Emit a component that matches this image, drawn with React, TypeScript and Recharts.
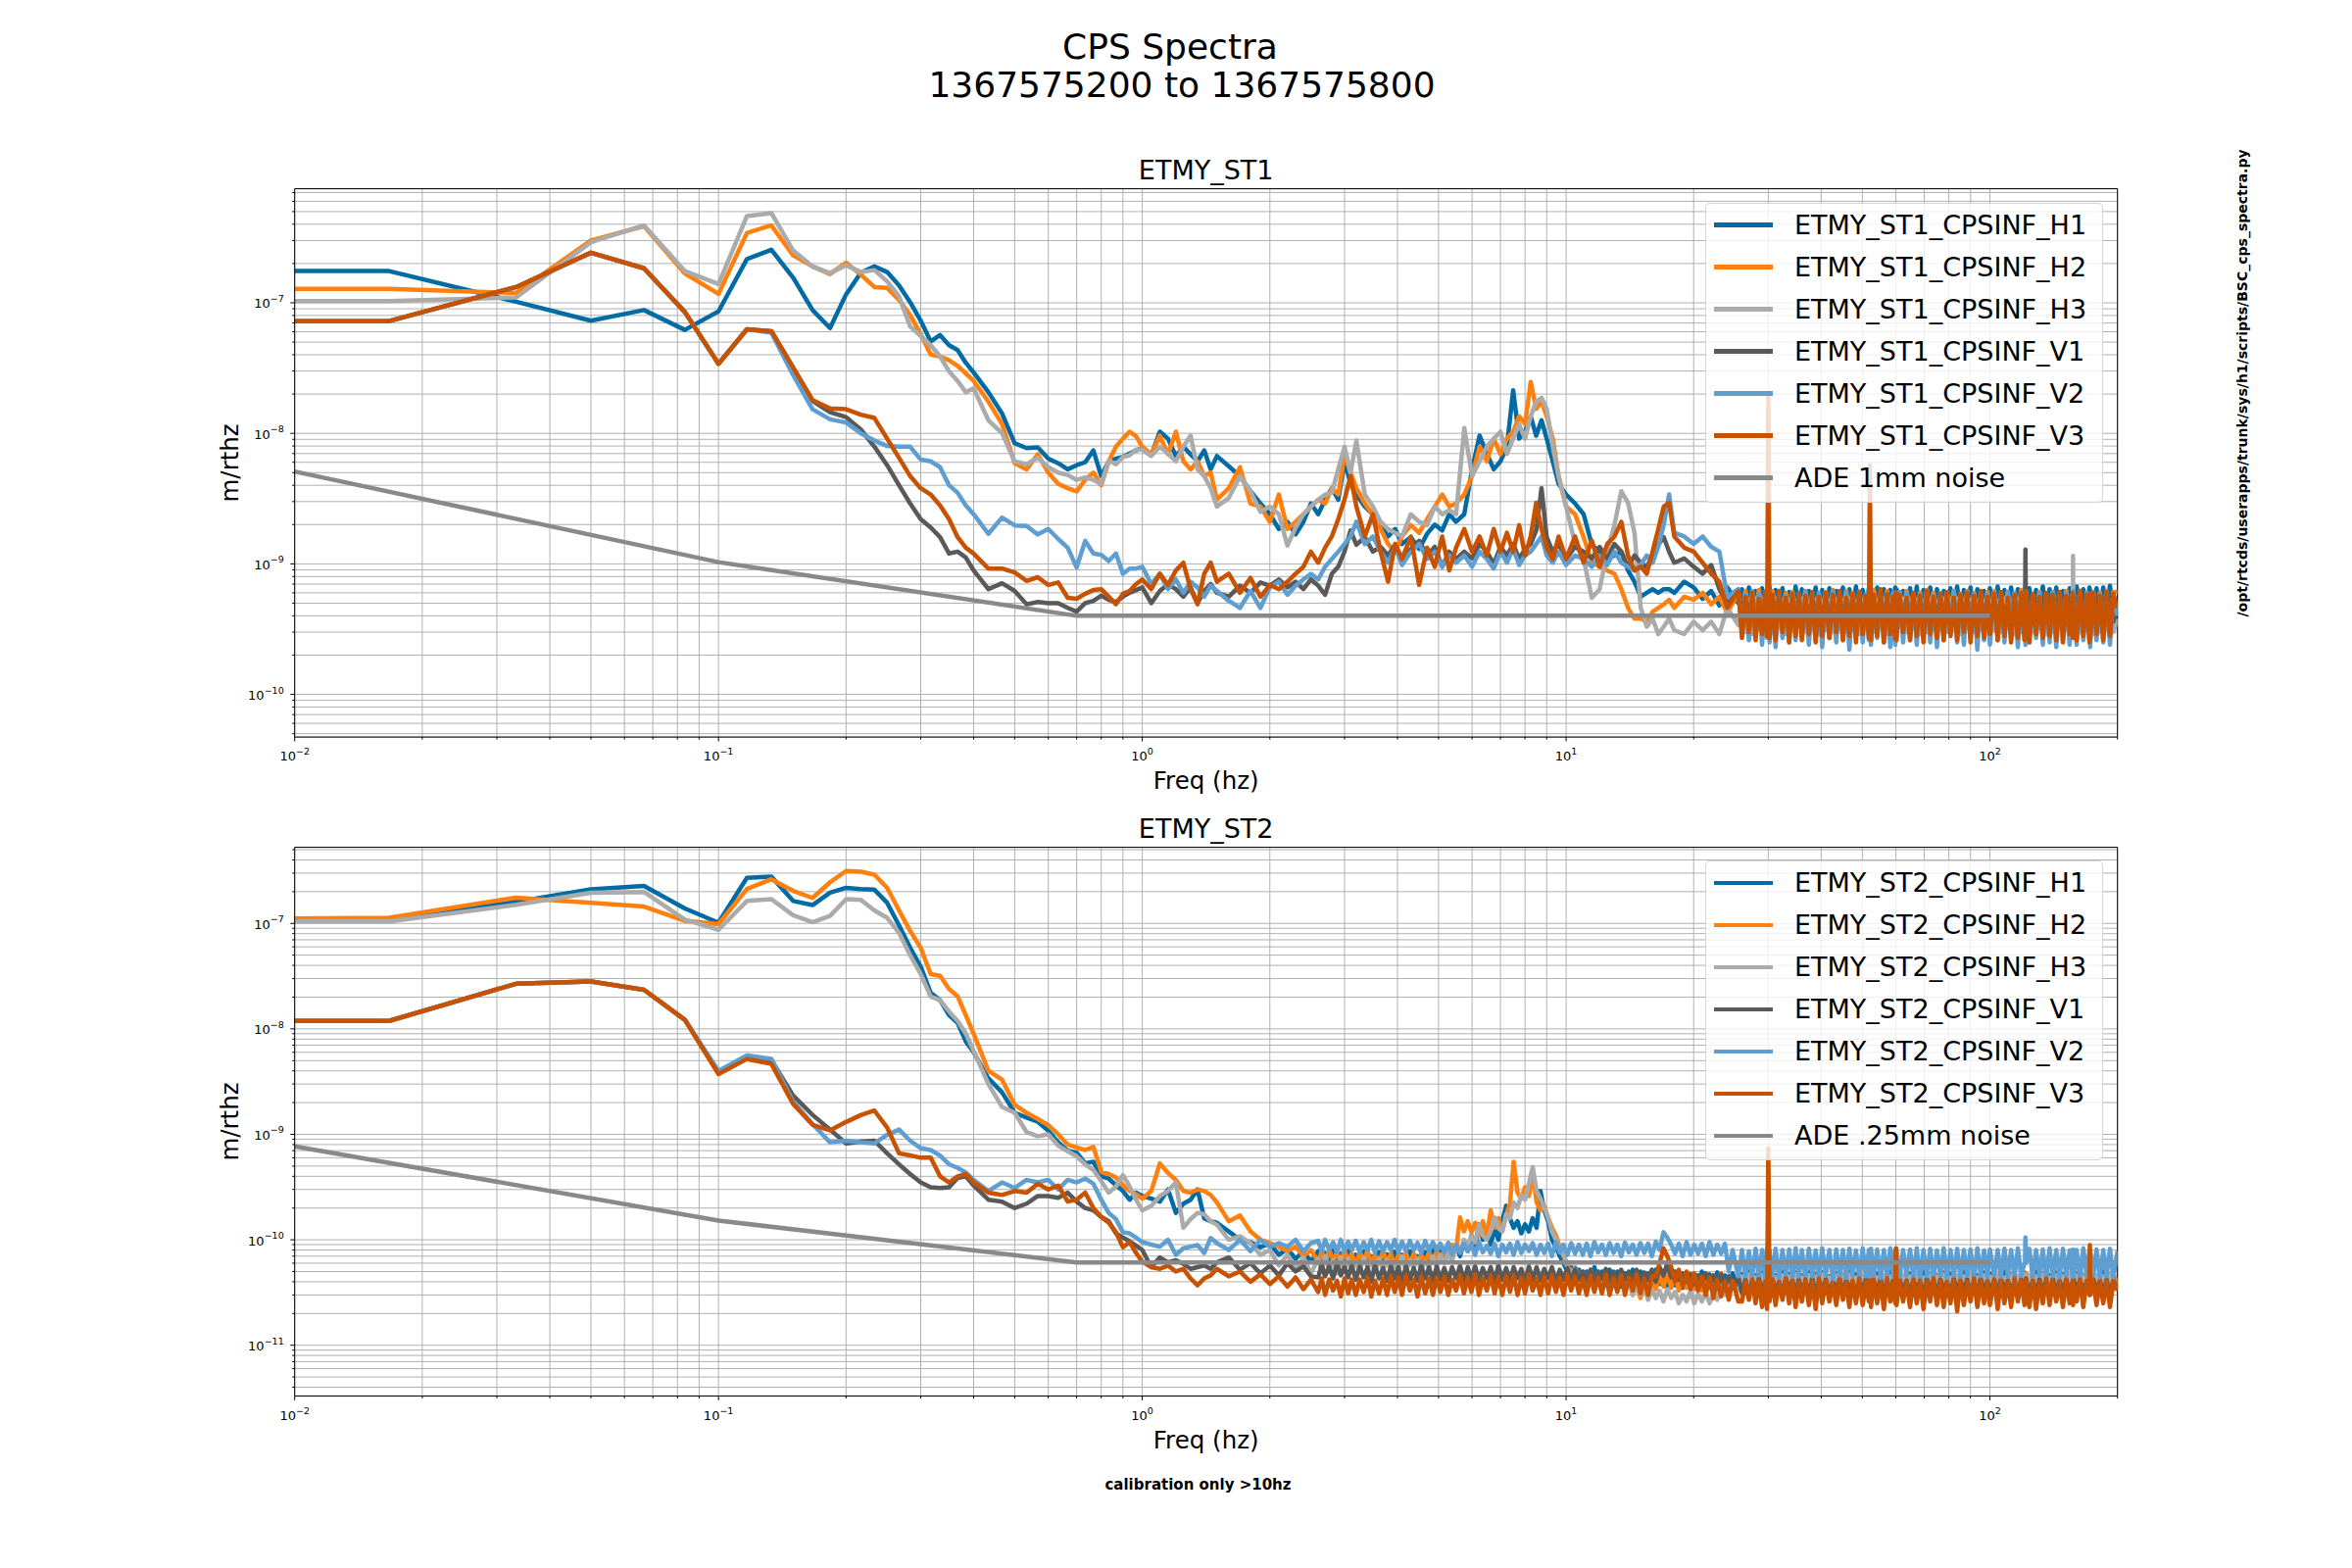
import React from 'react';
import { LineChart, Line, XAxis, YAxis, CartesianGrid, Legend, ReferenceLine } from 'recharts';

const FONT = 'DejaVu Sans';
const UNIT = 1e-10; // series values below are in units of 1e-10 m/rthz
const LINE_W = 4.5;

// frequency grids (Hz)
const FREQ_LOW = [
  0.01, 0.0167, 0.0333, 0.05, 0.0667, 0.0833, 0.1, 0.1167, 0.1333, 0.15,
  0.1667, 0.1833, 0.2, 0.2167, 0.2333, 0.25, 0.2667, 0.2833, 0.3, 0.3167,
  0.3333, 0.35, 0.3667, 0.3833, 0.4, 0.4333, 0.4667, 0.5, 0.5333, 0.5667,
  0.6, 0.6333, 0.6667, 0.7, 0.7333, 0.7667, 0.8, 0.8333, 0.8667, 0.9,
  0.9333, 0.9667, 1.0,
];
const FREQ_MID_A = [
  1.05, 1.1, 1.15, 1.2, 1.25, 1.3, 1.35, 1.4, 1.45, 1.5,
  1.6, 1.7, 1.8, 1.9, 2.0, 2.1, 2.2, 2.3, 2.4, 2.5,
];
const FREQ_MID_B = [
  2.6, 2.7, 2.8, 2.9, 3.0, 3.1, 3.2, 3.35, 3.5, 3.65,
  3.8, 3.95, 4.1, 4.3, 4.5, 4.7, 4.9, 5.1, 5.3, 5.5,
  5.75, 6.0, 6.25, 6.5, 6.75, 7.0, 7.25, 7.5, 7.75, 8.0,
  8.25, 8.5, 8.75, 9.0, 9.3, 9.6, 10, 10.5, 11, 11.5,
  12, 12.5, 13, 13.5, 14, 14.5, 15, 15.5, 16, 16.5,
  17, 17.5, 18, 19, 20, 21, 22, 23, 24, 25.5,
];
const FREQ_DENSE = [
  2.6, 2.65, 2.7, 2.76, 2.82, 2.88, 2.94, 3.0, 3.06, 3.12,
  3.19, 3.26, 3.33, 3.4, 3.47, 3.54, 3.62, 3.7, 3.78, 3.86,
  3.94, 4.02, 4.1, 4.19, 4.28, 4.37, 4.46, 4.55, 4.65, 4.75,
  4.85, 4.95, 5.05, 5.16, 5.27, 5.38, 5.5, 5.62, 5.74, 5.86,
  5.98, 6.1, 6.23, 6.36, 6.5, 6.64, 6.78, 6.92, 7.07, 7.22,
  7.37, 7.52, 7.68, 7.84, 8.0, 8.17, 8.34, 8.52, 8.7, 8.88,
  9.07, 9.26, 9.46, 9.66, 9.86, 10.07, 10.28, 10.5, 10.72, 10.95,
  11.18, 11.42, 11.66, 11.9, 12.15, 12.41, 12.67, 12.94, 13.21, 13.49,
  13.77, 14.06, 14.36, 14.66, 14.97, 15.29, 15.61, 15.94, 16.28, 16.62,
  16.97, 17.33, 17.7, 18.07, 18.45, 18.84, 19.24, 19.65, 20.06, 20.48,
  20.91, 21.35, 21.8, 22.26, 22.73, 23.21, 23.7, 24.2, 24.71, 25.5,
];
const FREQ_BAND = [
  26, 26.5, 27, 27.5, 28, 28.5, 29, 29.5, 29.8, 30,
  30.2, 30.7, 31.2, 31.8, 32.4, 33, 33.6, 34.2, 34.8, 35.4,
  36, 36.7, 37.4, 38.1, 38.8, 39.5, 40.2, 41, 41.8, 42.6,
  43.4, 44.2, 45, 45.8, 46.6, 47.4, 48.3, 49.2, 50.1, 51,
  51.8, 52.1, 52.4, 53.2, 54.2, 55.2, 56.2, 57.2, 58.2, 59.2,
  59.8, 60, 60.2, 61.2, 62.4, 63.6, 64.8, 66, 67.2, 68.4,
  69.7, 71, 72.3, 73.6, 75, 76.4, 77.8, 79.2, 80.7, 82.2,
  83.7, 85.2, 86.8, 88.4, 90, 91.7, 93.4, 95.1, 96.9, 98.7,
  100, 102.4, 104.3, 106.2, 108.2, 110.2, 112.2, 114.3, 116.4, 118.5,
  120.7, 121, 121.3, 121.6, 123.9, 126.2, 128.5, 130.9, 133.3, 135.8,
  138.3, 140.8, 143.4, 146, 148.7, 151.4, 154.2, 156.8, 157.1, 157.4,
  160.2, 163.1, 166.1, 169.2, 171.8, 172.1, 172.4, 175.3, 178.5, 181.8,
  185.1, 188.5, 192, 195.5, 200,
];
const FREQ_ST1 = [...FREQ_LOW, ...FREQ_MID_A, ...FREQ_MID_B, ...FREQ_BAND];
const FREQ_ST2 = [...FREQ_LOW, ...FREQ_MID_A, ...FREQ_DENSE, ...FREQ_BAND];

// ---------- ETMY_ST1 (on FREQ_ST1) ----------
const ST1_H1 = [
  1750, 1750, 1020, 730, 880, 620, 860, 2160, 2550, 1560,
  880, 640, 1160, 1700, 1900, 1720, 1360, 1010, 730, 506,
  566, 473, 434, 347, 292, 207, 142, 84, 77, 78,
  64, 59, 53, 57, 60, 74, 47, 61, 64, 66,
  70, 74, 77,
  68, 103, 91, 67, 79, 69, 61, 74, 53, 67,
  56, 47, 36, 29, 24, 18.5, 21, 16.8, 21, 29,
  24, 31, 38, 31, 61, 41, 34, 27.5, 24, 19.8,
  16.2, 18.5, 14.2, 16, 13, 17, 20, 18, 24, 21,
  24, 53, 96, 70, 53, 61, 79, 214, 91, 103,
  135, 96, 126, 91, 61, 41, 34, 29, 24, 14,
  12.4, 10.9, 11.6, 12.4, 8.9, 7.3, 5.6, 6.0, 6.4, 6.0,
  6.4, 6.4, 6.0, 7.3, 6.6, 5.4, 6.2, 4.8, 6.6, 5.0,
  6.4, 4.3, 6.6, 4.1, 6.2, 4.5, 6.5, 4.2, 6.3, 4.4,
  6.6, 4.0, 6.3, 4.4, 6.5, 4.2, 6.1, 4.6, 6.7, 4.1,
  6.4, 4.3, 6.2, 4.5, 6.6, 4.0, 6.3, 4.4, 6.5, 4.2,
  6.2, 4.6, 6.6, 4.1, 6.4, 4.3, 6.7, 4.2, 6.3, 4.5,
  6.5, 4.1, 6.2, 4.4, 6.6, 4.3, 6.4, 4.0, 6.3, 4.5,
  6.6, 4.2, 6.4, 4.4, 6.2, 4.1, 6.5, 4.3, 6.7, 4.0,
  6.3, 4.5, 6.6, 4.2, 6.4, 4.4, 6.2, 4.1, 6.5, 4.3,
  6.7, 4.2, 6.3, 4.5, 6.6, 4.0, 6.4, 4.3, 6.2, 4.4,
  6.5, 4.1, 6.7, 4.3, 6.3, 4.5, 6.6, 4.2, 6.4, 4.0,
  6.2, 4.4, 6.6, 4.1, 6.5, 4.3, 6.3, 4.5, 6.7, 4.2,
  6.4, 4.0, 6.6, 4.3, 6.2, 4.4, 6.5, 4.1, 6.3, 4.5,
  6.7, 4.2, 6.4, 4.4, 6.6, 4.1, 6.3, 4.3, 6.5, 4.2,
  6.6, 4.4, 6.8, 4.2, 5.0,
];
const ST1_H2 = [
  1280, 1280, 1190, 3000, 3870, 1680, 1170, 3430, 3920, 2310,
  1900, 1660, 2030, 1640, 1320, 1300, 1050, 804, 577, 401,
  388, 363, 329, 288, 252, 175, 118, 59, 53, 69,
  50, 41, 38, 36, 44, 50, 40, 61, 79, 91,
  103, 95, 79,
  69, 96, 69, 103, 61, 53, 61, 47, 50, 31,
  38, 55, 29, 27.5, 21, 34, 18.5, 21, 24, 27.5,
  31, 29, 38, 34, 69, 50, 38, 29, 24, 18.5,
  14.2, 12.4, 16.2, 19.8, 17.3, 22, 27.5, 34, 27.5, 29,
  34, 47, 79, 61, 91, 69, 91, 103, 135, 118,
  248, 154, 175, 135, 91, 47, 27.5, 24, 16, 10.3,
  9.5, 8.9, 8.4, 6.4, 4.6, 3.8, 3.8, 3.6, 4.3, 4.6,
  4.9, 5.3, 4.6, 5.6, 5.3, 6.0, 4.9, 5.6, 4.2, 6.0,
  4.0, 6.2, 4.4, 6.0, 4.1, 6.3, 4.2, 5.9, 4.3, 6.1,
  3.9, 6.2, 4.1, 5.8, 4.4, 6.0, 4.2, 6.1, 4.0, 5.9,
  4.3, 6.2, 3.9, 6.0, 4.2, 5.8, 4.4, 6.1, 4.1, 6.3,
  4.0, 5.9, 4.3, 6.2, 4.1, 6.0, 3.9, 6.1, 4.4, 5.8,
  4.2, 6.0, 4.0, 6.3, 4.3, 5.9, 4.1, 6.2, 3.9, 6.0,
  4.4, 5.8, 4.2, 6.1, 4.0, 6.2, 4.3, 5.9, 4.1, 6.0,
  3.9, 6.3, 4.2, 6.0, 4.4, 5.8, 4.0, 6.1, 4.3, 6.2,
  4.1, 5.9, 4.3, 6.2, 3.9, 6.0, 4.2, 5.8, 4.4, 6.1,
  4.0, 6.2, 4.1, 5.9, 4.3, 6.1, 3.9, 6.0, 4.2, 6.3,
  4.4, 6.0, 4.0, 6.2, 4.1, 5.8, 4.3, 6.1, 3.9, 5.9,
  4.2, 6.1, 4.4, 5.9, 4.0, 6.2, 4.1, 6.0, 4.3, 5.8,
  3.9, 6.2, 4.2, 6.0, 4.4, 5.9, 4.0, 6.1, 4.3, 6.0,
  4.1, 6.2, 4.0, 6.1, 6.1,
];
const ST1_H3 = [
  1030, 1030, 1100, 2910, 3920, 1750, 1390, 4620, 4870, 2520,
  1900, 1690, 1940, 1720, 1780, 1460, 1120, 659, 558, 473,
  388, 298, 252, 207, 221, 126, 100, 61, 58, 65,
  55, 50, 48, 44, 46, 44, 41, 62, 58, 66,
  68, 75, 75,
  67, 79, 70, 61, 79, 96, 53, 47, 38, 27.5,
  32, 47, 36, 25, 27.5, 24, 13.8, 19, 24, 27.5,
  31, 34, 35, 53, 79, 50, 88, 34, 27.5, 21,
  18.5, 17.3, 16.2, 24, 21, 19.8, 27.5, 24, 25.7, 24,
  110, 47, 61, 79, 91, 103, 69.5, 91, 118, 91,
  135, 175, 187, 154, 79, 47, 27.5, 14.2, 10.9, 5.5,
  6.4, 12.4, 19.8, 36, 29.4, 17.3, 4.6, 3.3, 3.8, 2.9,
  3.3, 3.8, 3.1, 2.9, 3.6, 3.1, 3.6, 2.9, 4.6, 3.4,
  5.2, 3.0, 4.8, 2.9, 5.4, 3.1, 5.0, 2.8, 5.3, 3.2,
  5.1, 3.0, 5.4, 3.2, 4.9, 2.9, 5.3, 3.1, 5.0, 3.3,
  5.4, 3.0, 5.1, 3.2, 5.3, 2.9, 5.0, 3.1, 5.2, 3.0,
  5.3, 3.2, 5.0, 3.0, 5.4, 3.1, 5.1, 2.9, 5.2, 3.2,
  5.0, 3.1, 5.3, 3.0, 5.2, 3.2, 5.4, 2.9, 5.1, 3.0,
  5.2, 3.1, 5.0, 3.3, 5.4, 3.0, 5.1, 3.2, 5.3, 2.9,
  5.1, 3.0, 5.3, 3.1, 5.0, 3.2, 5.4, 3.0, 5.2, 3.1,
  5.4, 2.9, 5.1, 3.2, 5.3, 3.0, 5.0, 3.1, 5.2, 3.3,
  5.0, 3.1, 5.2, 3.0, 5.4, 3.2, 5.1, 2.9, 5.3, 3.0,
  5.2, 3.2, 5.0, 3.1, 5.3, 3.0, 5.4, 3.2, 5.1, 2.9,
  5.3, 3.0, 5.1, 3.2, 5.0, 3.1, 5.2, 3.0, 11.5, 3.1,
  5.4, 3.0, 5.2, 3.1, 5.0, 3.2, 5.3, 2.9, 5.1, 3.0,
  5.2, 3.1, 5.3, 3.0, 3.8,
];
const ST1_V1 = [
  724, 724, 1320, 2420, 1840, 850, 341, 627, 606, 319,
  177, 145, 133, 107, 79, 57, 40, 29, 22, 19,
  16, 12, 12.4, 11.2, 8.9, 6.4, 7.1, 6.2, 4.9, 5.1,
  5.0, 5.0, 4.6, 4.3, 5.0, 5.2, 5.7, 5.3, 5.1, 5.6,
  6.0, 6.3, 6.6,
  5.0, 6.2, 7.0, 6.4, 5.6, 6.6, 5.0, 6.2, 7.0, 6.0,
  5.6, 6.8, 6.0, 7.2, 6.8, 7.6, 6.6, 7.3, 6.4, 7.6,
  6.8, 5.8, 8.4, 9.5, 12.4, 18, 14, 16, 12.4, 13.5,
  11.6, 14, 10.9, 13, 15, 11.6, 13.5, 9.5, 12.4, 10.9,
  12.4, 11, 14.2, 12.4, 10, 13.5, 11.6, 14.2, 10.9, 13,
  14.2, 18, 38, 16, 12.4, 14.2, 10.9, 13.5, 12.4, 11,
  13.5, 10.9, 14.2, 12.4, 9.5, 11.6, 10.2, 9.5, 11.6, 14,
  16, 12.4, 10.2, 11, 9.5, 8.4, 9.8, 6.4, 5.0, 6.0,
  4.4, 5.6, 4.0, 5.4, 3.8, 5.7, 3.6, 5.5, 3.9, 5.6,
  3.7, 5.5, 3.9, 5.7, 3.6, 5.4, 3.8, 5.6, 3.5, 5.5,
  3.8, 5.3, 3.6, 5.6, 3.9, 5.4, 3.5, 5.7, 3.7, 5.3,
  3.6, 5.6, 3.8, 5.4, 3.5, 5.5, 3.7, 5.7, 3.6, 5.4,
  3.8, 5.5, 3.6, 5.3, 3.9, 5.6, 3.7, 5.4, 3.5, 5.6,
  3.7, 5.4, 3.9, 5.7, 3.6, 5.5, 3.8, 5.3, 3.5, 5.6,
  3.9, 5.5, 3.7, 5.4, 3.6, 5.7, 3.8, 5.5, 3.6, 5.3,
  3.5, 5.6, 3.8, 5.5, 3.7, 5.4, 3.9, 5.6, 3.6, 5.7,
  3.8, 5.4, 3.6, 5.5, 3.7, 5.3, 3.9, 5.6, 3.5, 5.4,
  3.7, 3.6, 12.9, 3.8, 5.5, 3.6, 5.4, 3.9, 5.6, 3.7,
  5.5, 3.8, 5.3, 3.6, 5.6, 3.7, 5.4, 3.9, 5.5, 3.6,
  5.4, 3.8, 5.6, 3.5, 5.5, 3.7, 5.3, 3.9, 5.6, 3.6,
  5.4, 3.8, 5.5, 3.6, 4.6,
];
const ST1_V2 = [
  724, 724, 1320, 2420, 1840, 850, 341, 627, 590, 280,
  153, 128, 121, 100, 88, 80, 79, 79, 63, 61,
  55, 40, 35, 28, 24, 17, 22.6, 19.7, 19.5, 16.8,
  18.5, 15.5, 13.3, 9.4, 15, 12, 11.7, 10.5, 12, 8.4,
  9.2, 9.2, 9.5,
  7.0, 8.4, 6.4, 7.6, 6.0, 7.3, 6.6, 5.6, 6.8, 6.2,
  5.2, 4.6, 6.2, 4.6, 6.6, 7.3, 5.8, 6.8, 7.6, 8.4,
  7.6, 9.5, 10.9, 12.4, 14.2, 16.2, 21, 14.2, 16.2, 12.4,
  10.2, 13.5, 9.8, 12.4, 14.2, 10.9, 12.4, 9.5, 11.6, 10.2,
  11.6, 9.5, 12.4, 10.9, 9.2, 12.4, 10.2, 13, 9.8, 11.6,
  12.4, 14.2, 16.2, 11.6, 10.2, 12.4, 9.8, 11.6, 10.9, 9.5,
  11.6, 9.8, 12.4, 10.2, 9.5, 8.9, 9.8, 11.6, 10.2, 13.5,
  20, 34, 17.3, 16.2, 14.2, 16.2, 13.5, 12.4, 5.6, 6.4,
  3.0, 5.8, 2.6, 6.2, 2.8, 5.9, 2.4, 6.1, 2.7, 6.0,
  2.5, 5.8, 2.3, 6.2, 2.7, 5.7, 2.5, 6.0, 2.6, 5.9,
  2.8, 6.1, 2.4, 5.8, 2.6, 6.0, 2.3, 5.9, 2.7, 6.2,
  2.5, 5.8, 2.6, 6.0, 2.2, 5.7, 2.7, 6.1, 2.5, 5.9,
  2.6, 6.0, 2.4, 5.8, 2.7, 6.1, 2.5, 5.9, 2.3, 6.0,
  2.4, 5.8, 2.7, 6.1, 2.5, 5.9, 2.6, 6.0, 2.4, 5.8,
  2.7, 6.2, 2.5, 5.7, 2.3, 6.0, 2.6, 5.9, 2.8, 6.1,
  2.5, 5.8, 2.4, 6.0, 2.7, 5.9, 2.2, 6.1, 2.6, 5.8,
  2.4, 6.0, 2.6, 5.8, 2.5, 6.1, 2.7, 5.9, 2.3, 6.0,
  2.6, 5.9, 2.4, 6.1, 2.5, 5.8, 2.7, 6.0, 2.4, 5.9,
  2.5, 6.1, 2.3, 5.8, 2.6, 6.0, 2.4, 5.9, 2.7, 6.2,
  2.4, 5.8, 2.6, 6.0, 2.5, 5.9, 2.3, 6.1, 2.6, 5.8,
  2.5, 6.0, 2.4, 5.9, 4.0,
];
const ST1_V3 = [
  724, 724, 1320, 2420, 1840, 850, 341, 627, 606, 319,
  180, 155, 153, 139, 131, 91, 65, 47, 38, 34,
  28, 22, 16, 13.3, 12, 9.2, 9.2, 8.6, 7.4, 7.9,
  6.9, 7.2, 5.5, 5.4, 5.9, 6.3, 6.4, 5.6, 4.9, 5.9,
  6.2, 7.0, 7.6,
  6.4, 8.4, 6.9, 8.9, 10.2, 6.4, 4.9, 8.4, 10.2, 7.3,
  8.4, 6.0, 7.8, 5.6, 6.9, 6.4, 7.3, 8.4, 9.5, 12.4,
  10.2, 13.3, 16.2, 22, 31, 47, 27.5, 16.2, 24, 12.4,
  7.3, 14.2, 10.9, 16.2, 6.9, 13.3, 9.5, 16.2, 8.9, 13.3,
  18.5, 12.4, 16.2, 11.6, 18.5, 12.4, 17.3, 12.4, 19.8, 11.6,
  16.2, 29.4, 18.5, 13.3, 10.9, 16.2, 10.9, 16.2, 10.2, 15.1,
  9.5, 14.2, 16.2, 21, 11.6, 8.9, 9.5, 8.4, 12.4, 18.5,
  27.5, 29.4, 16.2, 13.3, 12.4, 10.2, 8.4, 7.3, 4.6, 6.2,
  2.7, 5.6, 3.0, 6.0, 2.6, 5.4, 2.9, 6.1, 2.8, 190,
  2.7, 5.8, 2.6, 6.2, 3.0, 5.5, 2.5, 5.9, 2.8, 6.0,
  2.6, 5.7, 2.9, 6.1, 2.5, 5.6, 2.8, 6.0, 2.7, 5.8,
  3.0, 6.2, 2.6, 5.5, 2.8, 5.9, 2.5, 6.1, 2.9, 5.7,
  2.7, 57, 2.6, 5.8, 2.8, 6.4, 2.5, 5.9, 2.9, 5.6,
  2.7, 6.1, 2.6, 5.8, 3.0, 5.5, 2.6, 6.0, 2.8, 5.7,
  2.5, 6.2, 2.9, 5.6, 2.7, 5.9, 2.6, 6.1, 2.8, 5.5,
  2.6, 5.8, 3.0, 6.0, 2.5, 5.7, 2.8, 6.2, 2.7, 5.6,
  2.9, 5.9, 2.6, 6.1, 2.8, 5.5, 2.5, 5.8, 2.7, 6.0,
  2.6, 5.7, 2.8, 6.2, 2.5, 5.9, 2.9, 5.6, 2.7, 6.0,
  2.8, 5.8, 2.6, 6.1, 2.5, 5.7, 2.9, 6.0, 2.7, 5.6,
  2.6, 6.2, 2.8, 5.8, 2.5, 5.9, 2.7, 6.0, 2.9, 5.7,
  2.6, 6.1, 2.8, 5.9, 4.6,
];

// ---------- ETMY_ST2 (on FREQ_ST2) ----------
const ST2_H1 = [
  1067, 1067, 1607, 2104, 2265, 1388, 1016, 2711, 2780, 1633,
  1493, 1955, 2176, 2120, 2090, 1570, 960, 588, 390, 220,
  187, 135, 114, 76, 60, 34, 25, 16, 14.4, 13.2,
  10.8, 8.4, 7.0, 6.7, 5.3, 5.5, 4.0, 3.8, 3.3, 2.9,
  2.4, 2.8, 2.6,
  2.45, 2.3, 3.0, 1.8, 2.2, 2.4, 3.0, 1.6, 1.5, 1.45,
  1.2, 1.0, 0.95, 0.85, 0.92, 0.72, 0.82, 0.66, 0.78, 0.62,
  0.78, 0.6, 0.75, 0.58, 0.8, 0.62, 0.74, 0.57, 0.79, 0.6,
  0.72, 0.56, 0.78, 0.6, 0.7, 0.55, 0.76, 0.58, 0.73, 0.56,
  0.77, 0.58, 0.72, 0.56, 0.78, 0.6, 0.7, 0.57, 0.76, 0.59,
  0.8, 0.6, 0.78, 0.62, 0.85, 0.66, 0.9, 0.7, 0.95, 0.78,
  1.1, 0.85, 1.4, 1.0, 1.25, 0.9, 1.3, 1.0, 1.5, 2.1,
  1.6, 1.3, 1.5, 1.15, 1.4, 1.2, 1.6, 1.3, 2.9, 1.9,
  1.5, 1.0, 0.86, 0.7, 0.6, 0.5, 0.55, 0.42, 0.52, 0.4,
  0.5, 0.38, 0.55, 0.4, 0.5, 0.37, 0.52, 0.38, 0.5, 0.36,
  0.48, 0.36, 0.52, 0.38, 0.5, 0.35, 0.48, 0.37, 0.52, 0.38,
  0.5, 0.36, 0.48, 0.37, 0.5, 0.35, 0.47, 0.38, 0.46, 0.34,
  0.5, 0.35, 0.47, 0.36, 0.49, 0.34, 0.46, 0.36, 0.48, 0.34,
  0.47, 0.34, 0.5, 0.35, 0.46, 0.33, 0.49, 0.36, 0.45, 0.34,
  0.48, 0.35, 0.46, 0.33, 0.5, 0.36, 0.47, 0.34, 0.49, 0.35,
  0.46, 0.33, 0.5, 0.35, 0.47, 0.34, 0.49, 0.36, 0.45, 0.33,
  0.48, 0.35, 0.46, 0.34, 0.5, 0.33, 0.47, 0.36, 0.45, 0.34,
  0.49, 0.35, 0.46, 0.33, 0.48, 0.36, 0.45, 0.34, 0.5, 0.35,
  0.47, 0.33, 0.49, 0.36, 0.46, 0.34, 0.48, 0.35, 0.45, 0.33,
  0.5, 0.34, 0.47, 0.36, 0.46, 0.33, 0.49, 0.35, 0.48, 0.34,
  0.45, 0.36, 0.5, 0.33, 0.47, 0.35, 0.46, 0.34, 0.49, 0.36,
  0.48, 0.33, 0.46, 0.35, 0.5, 0.34, 0.47, 0.36, 0.45, 0.33,
  0.49, 0.35, 0.47, 0.34, 0.46, 0.36, 0.5, 0.33, 0.48, 0.35,
  0.46, 0.34, 0.49, 0.33, 0.47, 0.36, 0.45, 0.35, 0.5, 0.34,
  0.48, 0.36, 0.46, 0.33, 0.49, 0.35, 0.47, 0.34, 0.45, 0.36,
  0.5, 0.34, 0.47, 0.35, 0.4,
];
const ST2_H2 = [
  1112, 1130, 1758, 1567, 1445, 1059, 984, 2124, 2626, 2036,
  1745, 2459, 3142, 3090, 2900, 2170, 1330, 850, 588, 331,
  318, 239, 203, 135, 90, 40, 33, 19, 16, 14,
  12.2, 10, 8.0, 7.5, 7.1, 7.6, 4.4, 4.2, 3.9, 3.3,
  2.9, 2.7, 2.45,
  2.9, 5.3, 4.3, 3.7, 2.9, 2.8, 3.0, 2.9, 2.66, 2.26,
  1.5, 1.7, 1.2, 1.0, 0.93, 0.86, 0.78, 0.86, 0.7, 0.8,
  0.62, 0.78, 0.6, 0.8, 0.64, 0.76, 0.6, 0.8, 0.62, 0.74,
  0.58, 0.76, 0.62, 0.8, 0.58, 0.72, 0.62, 0.78, 0.6, 0.74,
  0.56, 0.72, 0.6, 0.75, 0.58, 0.74, 0.6, 0.72, 0.62, 0.76,
  0.6, 0.78, 0.64, 0.8, 0.7, 0.9, 0.8, 1.63, 1.2, 1.5,
  1.18, 1.45, 1.1, 1.5, 1.1, 1.9, 1.3, 1.6, 1.2, 1.7,
  2.2, 5.5, 2.8, 2.45, 3.15, 2.6, 4.3, 2.26, 1.9, 2.1,
  1.63, 1.3, 1.1, 0.86, 0.7, 0.6, 0.45, 0.55, 0.42, 0.5,
  0.4, 0.5, 0.36, 0.48, 0.38, 0.5, 0.34, 0.46, 0.36, 0.48,
  0.34, 0.45, 0.3, 0.38, 0.28, 0.36, 0.3, 0.4, 0.34, 0.46,
  0.36, 0.48, 0.35, 0.47, 0.33, 0.46, 0.35, 0.48, 0.34, 0.45,
  0.33, 0.47, 0.35, 0.46, 0.34, 0.48, 0.33, 0.45, 0.35, 0.44,
  0.34, 0.46, 0.32, 0.48, 0.35, 0.45, 0.33, 0.47, 0.34, 0.44,
  0.32, 0.47, 0.35, 0.45, 0.33, 0.48, 0.34, 0.46, 0.32, 0.44,
  0.35, 0.48, 0.33, 0.45, 0.34, 0.47, 0.32, 0.46, 0.35, 0.44,
  0.33, 0.47, 0.34, 0.48, 0.32, 0.45, 0.35, 0.46, 0.33, 0.47,
  0.34, 0.44, 0.32, 0.48, 0.35, 0.46, 0.33, 0.45, 0.34, 0.47,
  0.32, 0.46, 0.35, 0.44, 0.33, 0.48, 0.34, 0.45, 0.32, 0.47,
  0.35, 0.45, 0.33, 0.47, 0.34, 0.46, 0.32, 0.48, 0.35, 0.44,
  0.33, 0.48, 0.34, 0.45, 0.32, 0.47, 0.35, 0.46, 0.33, 0.45,
  0.34, 0.47, 0.32, 0.46, 0.35, 0.44, 0.33, 0.48, 0.34, 0.45,
  0.32, 0.46, 0.35, 0.48, 0.33, 0.45, 0.34, 0.47, 0.32, 0.46,
  0.35, 0.44, 0.33, 0.47, 0.34, 0.48, 0.32, 0.45, 0.35, 0.46,
  0.33, 0.47, 0.34, 0.45, 0.32, 0.46, 0.35, 0.48, 0.33, 0.44,
  0.34, 0.46, 0.32, 0.48, 0.38,
];
const ST2_H3 = [
  1042, 1042, 1504, 1955, 1985, 1085, 870, 1633, 1701, 1197,
  1025, 1178, 1701, 1670, 1330, 1130, 815, 499, 331, 203,
  187, 146, 119, 90, 62, 30, 18.2, 16, 10.5, 9.6,
  10, 7.8, 6.9, 6.2, 5.2, 4.6, 3.6, 2.8, 3.2, 4.1,
  3.2, 2.4, 1.9,
  2.1, 2.6, 2.9, 3.5, 1.3, 1.57, 1.8, 1.75, 1.5, 1.39,
  1.0, 1.08, 0.93, 0.72, 0.8, 0.57, 0.72, 0.53, 0.68, 0.48,
  0.66, 0.5, 0.7, 0.52, 0.64, 0.48, 0.68, 0.5, 0.66, 0.52,
  0.62, 0.5, 0.68, 0.55, 0.62, 0.5, 0.66, 0.52, 0.64, 0.5,
  0.6, 0.52, 0.7, 0.5, 0.64, 0.55, 0.66, 0.52, 0.62, 0.55,
  0.7, 0.56, 0.72, 0.6, 0.75, 0.62, 0.9, 0.78, 1.0, 0.9,
  1.08, 0.95, 1.39, 1.1, 1.0, 1.2, 1.63, 1.3, 1.2, 1.75,
  1.6, 2.26, 2.0, 2.66, 2.4, 3.4, 4.9, 2.9, 2.45, 2.0,
  1.63, 1.2, 1.0, 0.8, 0.72, 0.55, 0.48, 0.55, 0.42, 0.5,
  0.4, 0.52, 0.38, 0.5, 0.36, 0.48, 0.35, 0.46, 0.38, 0.42,
  0.36, 0.42, 0.3, 0.38, 0.3, 0.36, 0.27, 0.34, 0.28, 0.33,
  0.26, 0.34, 0.28, 0.32, 0.25, 0.3, 0.26, 0.33, 0.25, 0.31,
  0.26, 0.32, 0.25, 0.3, 0.27, 0.36, 0.3, 0.42, 0.36, 0.33,
  0.45, 0.31, 0.47, 0.33, 0.44, 0.32, 0.46, 0.34, 0.45, 0.31,
  0.47, 0.33, 0.44, 0.32, 0.46, 0.31, 0.45, 0.34, 0.47, 0.32,
  0.44, 0.33, 0.46, 0.31, 0.45, 0.34, 0.47, 0.32, 0.44, 0.33,
  0.46, 0.31, 0.45, 0.33, 0.47, 0.32, 0.44, 0.34, 0.46, 0.31,
  0.45, 0.33, 0.47, 0.32, 0.44, 0.31, 0.46, 0.34, 0.45, 0.32,
  0.47, 0.31, 0.44, 0.33, 0.46, 0.32, 0.45, 0.34, 0.47, 0.31,
  0.44, 0.32, 0.46, 0.34, 0.45, 0.31, 0.47, 0.33, 0.44, 0.32,
  0.46, 0.33, 0.45, 0.31, 0.47, 0.34, 0.44, 0.32, 0.46, 0.33,
  0.45, 0.32, 0.47, 0.33, 0.44, 0.31, 0.46, 0.34, 0.45, 0.32,
  0.47, 0.34, 0.44, 0.31, 0.46, 0.33, 0.45, 0.32, 0.47, 0.34,
  0.44, 0.31, 0.46, 0.33, 0.45, 0.32, 0.47, 0.34, 0.44, 0.31,
  0.46, 0.33, 0.45, 0.32, 0.47, 0.31, 0.44, 0.34, 0.46, 0.33,
  0.45, 0.31, 0.47, 0.34, 0.37,
];
const ST2_V1 = [
  119, 119, 268, 282, 235, 122, 38.6, 54, 50.6, 23.3,
  15.3, 11.1, 8.2, 8.5, 8.7, 6.6, 5.2, 4.2, 3.5, 3.15,
  3.1, 3.15, 3.85, 4.0, 3.27, 2.4, 2.3, 2.0, 2.2, 2.6,
  2.6, 2.5, 2.8, 2.3, 2.0, 1.9, 1.65, 1.5, 1.15, 1.05,
  0.97, 0.88, 0.8,
  0.55, 0.68, 0.61, 0.64, 0.59, 0.53, 0.55, 0.57, 0.53, 0.61,
  0.68, 0.52, 0.6, 0.48, 0.57, 0.46, 0.6, 0.5, 0.56, 0.45,
  0.44, 0.58, 0.45, 0.56, 0.43, 0.6, 0.46, 0.55, 0.44, 0.57,
  0.42, 0.56, 0.44, 0.55, 0.4, 0.58, 0.43, 0.54, 0.41, 0.56,
  0.43, 0.55, 0.4, 0.56, 0.42, 0.54, 0.41, 0.57, 0.43, 0.55,
  0.4, 0.56, 0.42, 0.54, 0.41, 0.55, 0.43, 0.57, 0.4, 0.55,
  0.42, 0.56, 0.41, 0.54, 0.43, 0.55, 0.4, 0.57, 0.42, 0.54,
  0.41, 0.55, 0.43, 0.53, 0.4, 0.56, 0.42, 0.55, 0.41, 0.53,
  0.43, 0.55, 0.4, 0.52, 0.42, 0.54, 0.4, 0.53, 0.42, 0.5,
  0.41, 0.52, 0.4, 0.5, 0.43, 0.53, 0.41, 0.5, 0.4, 0.52,
  0.42, 0.5, 0.4, 0.52, 0.41, 0.49, 0.43, 0.52, 0.4, 0.55,
  0.46, 0.6, 0.44, 0.5, 0.42, 0.48, 0.4, 0.47, 0.38, 0.46,
  0.39, 0.48, 0.37, 0.46, 0.36, 0.47, 0.35, 0.45, 0.36, 0.44,
  0.31, 0.42, 0.3, 0.41, 0.33, 0.43, 0.32, 0.4, 0.28, 0.4,
  0.3, 0.42, 0.32, 0.4, 0.31, 0.43, 0.33, 0.41, 0.3, 0.42,
  0.32, 0.4, 0.31, 0.43, 0.3, 0.41, 0.33, 0.42, 0.31, 0.4,
  0.33, 0.43, 0.3, 0.42, 0.32, 0.4, 0.31, 0.41, 0.33, 0.43,
  0.31, 0.42, 0.3, 0.4, 0.32, 0.43, 0.31, 0.41, 0.3, 0.42,
  0.33, 0.4, 0.31, 0.43, 0.32, 0.41, 0.3, 0.42, 0.33, 0.4,
  0.3, 0.43, 0.32, 0.41, 0.31, 0.42, 0.33, 0.4, 0.3, 0.43,
  0.32, 0.41, 0.33, 0.42, 0.3, 0.4, 0.31, 0.43, 0.32, 0.41,
  0.31, 0.42, 0.3, 0.43, 0.33, 0.41, 0.32, 0.4, 0.31, 0.42,
  0.33, 0.4, 0.32, 0.43, 0.3, 0.41, 0.31, 0.42, 0.33, 0.4,
  0.3, 0.43, 0.31, 0.41, 0.32, 0.42, 0.3, 0.4, 0.33, 0.43,
  0.32, 0.41, 0.33, 0.4, 0.31, 0.42, 0.3, 0.43, 0.32, 0.41,
  0.31, 0.42, 0.3, 0.41, 0.35,
];
const ST2_V2 = [
  119, 119, 268, 282, 235, 122, 40, 56, 52, 20.5,
  12.5, 8.4, 8.7, 8.4, 8.2, 9.9, 11.1, 8.7, 7.4, 7.1,
  6.3, 5.2, 4.8, 4.35, 3.7, 2.9, 3.5, 3.1, 3.7, 3.5,
  3.7, 3.0, 3.7, 3.5, 3.8, 3.4, 2.4, 1.8, 1.57, 1.18,
  1.15, 1.05, 0.95,
  0.9, 0.86, 1.0, 0.72, 0.83, 0.86, 0.89, 0.75, 1.04, 0.93,
  0.8, 1.0, 0.78, 1.0, 0.86, 0.93, 0.86, 1.0, 0.78, 0.93,
  0.98, 0.78, 1.0, 0.8, 0.95, 0.76, 1.0, 0.78, 0.96, 0.8,
  0.98, 0.76, 0.95, 0.8, 1.0, 0.75, 0.97, 0.78, 0.95, 0.8,
  1.0, 0.76, 0.96, 0.78, 0.98, 0.8, 0.94, 0.75, 0.98, 0.78,
  0.95, 0.8, 0.92, 0.76, 0.94, 0.72, 0.9, 0.75, 0.92, 0.78,
  0.9, 0.72, 0.95, 0.76, 0.88, 0.74, 0.92, 0.7, 0.9, 0.76,
  0.92, 0.72, 0.95, 0.75, 0.9, 0.78, 0.93, 0.72, 0.9, 0.75,
  0.92, 0.7, 0.95, 0.76, 0.9, 0.72, 0.93, 0.74, 0.9, 0.72,
  0.92, 0.7, 0.95, 0.76, 0.9, 0.72, 0.93, 0.75, 0.9, 0.7,
  0.94, 0.76, 0.9, 0.72, 0.93, 0.75, 0.92, 0.7, 0.96, 0.8,
  1.18, 1.05, 0.9, 0.74, 0.92, 0.7, 0.95, 0.72, 0.9, 0.74,
  0.92, 0.7, 0.95, 0.72, 0.9, 0.74, 0.92, 0.5, 0.8, 0.45,
  0.8, 0.45, 0.78, 0.44, 0.82, 0.46, 0.8, 0.43, 0.83, 0.45,
  0.79, 0.44, 0.82, 0.43, 0.8, 0.46, 0.81, 0.44, 0.83, 0.45,
  0.8, 0.43, 0.82, 0.45, 0.79, 0.44, 0.83, 0.46, 0.8, 0.42,
  0.81, 0.45, 0.8, 0.43, 0.82, 0.46, 0.79, 0.44, 0.83, 0.45,
  0.8, 0.44, 0.82, 0.46, 0.81, 0.43, 0.8, 0.45, 0.83, 0.44,
  0.79, 0.45, 0.82, 0.43, 0.8, 0.46, 0.81, 0.44, 0.83, 0.42,
  0.8, 0.45, 0.82, 0.44, 0.79, 0.46, 0.83, 0.43, 0.8, 0.45,
  0.82, 0.44, 0.8, 0.46, 0.81, 0.43, 0.83, 0.45, 0.79, 0.44,
  0.81, 0.46, 0.8, 0.43, 0.82, 0.45, 0.8, 0.44, 0.83, 0.46,
  0.6, 0.62, 1.05, 0.6, 0.82, 0.44, 0.8, 0.46, 0.81, 0.43,
  0.83, 0.45, 0.8, 0.44, 0.82, 0.46, 0.79, 0.43, 0.81, 0.45,
  0.8, 0.44, 0.83, 0.46, 0.8, 0.43, 0.82, 0.45, 0.81, 0.44,
  0.8, 0.45, 0.82, 0.44, 0.78,
];
const ST2_V3 = [
  119, 119, 268, 282, 235, 122, 37.3, 51.8, 46.6, 19.4,
  12.3, 10.9, 13.1, 15.2, 16.8, 11.6, 6.6, 6.3, 6.0, 6.0,
  4.0, 3.5, 4.0, 4.2, 3.5, 2.8, 2.66, 2.9, 2.8, 3.4,
  3.0, 3.27, 2.3, 2.4, 2.8, 2.0, 1.65, 1.45, 1.18, 0.85,
  0.95, 0.75, 0.62,
  0.55, 0.53, 0.57, 0.5, 0.53, 0.43, 0.37, 0.43, 0.46, 0.53,
  0.45, 0.5, 0.4, 0.47, 0.38, 0.45, 0.36, 0.44, 0.34, 0.42,
  0.32, 0.43, 0.3, 0.42, 0.33, 0.41, 0.29, 0.43, 0.31, 0.42,
  0.3, 0.42, 0.32, 0.44, 0.29, 0.41, 0.31, 0.43, 0.3, 0.45,
  0.32, 0.44, 0.3, 0.46, 0.33, 0.42, 0.29, 0.45, 0.31, 0.43,
  0.3, 0.44, 0.32, 0.45, 0.3, 0.42, 0.33, 0.46, 0.31, 0.44,
  0.32, 0.47, 0.3, 0.43, 0.33, 0.46, 0.31, 0.44, 0.3, 0.45,
  0.32, 0.46, 0.3, 0.44, 0.31, 0.47, 0.33, 0.43, 0.3, 0.45,
  0.31, 0.46, 0.32, 0.44, 0.3, 0.47, 0.33, 0.45, 0.31, 0.43,
  0.3, 0.46, 0.32, 0.44, 0.31, 0.47, 0.3, 0.43, 0.32, 0.46,
  0.3, 0.44, 0.33, 0.47, 0.31, 0.43, 0.3, 0.45, 0.45, 0.6,
  0.83, 0.7, 0.55, 0.4, 0.52, 0.36, 0.5, 0.34, 0.48, 0.33,
  0.45, 0.3, 0.44, 0.28, 0.42, 0.29, 0.4, 0.27, 0.41, 0.26,
  0.26, 0.4, 0.27, 0.42, 0.25, 0.41, 0.23, 0.4, 0.22, 7.35,
  0.26, 0.42, 0.24, 0.4, 0.27, 0.43, 0.25, 0.41, 0.23, 0.4,
  0.26, 0.42, 0.24, 0.4, 0.22, 0.43, 0.25, 0.41, 0.26, 0.39,
  0.24, 0.42, 0.27, 0.4, 0.23, 0.41, 0.25, 0.43, 0.24, 0.4,
  0.26, 0.41, 0.23, 0.42, 0.25, 0.4, 0.22, 0.43, 0.26, 0.39,
  0.25, 0.83, 0.24, 0.41, 0.26, 0.4, 0.23, 0.42, 0.25, 0.41,
  0.22, 0.4, 0.26, 0.43, 0.24, 0.41, 0.23, 0.4, 0.25, 0.42,
  0.21, 0.41, 0.24, 0.4, 0.26, 0.43, 0.23, 0.41, 0.25, 0.4,
  0.24, 0.42, 0.22, 0.41, 0.25, 0.4, 0.23, 0.43, 0.26, 0.41,
  0.24, 0.4, 0.25, 0.42, 0.23, 0.41, 0.22, 0.4, 0.25, 0.43,
  0.24, 0.41, 0.26, 0.4, 0.23, 0.42, 0.25, 0.41, 0.24, 0.4,
  0.26, 0.42, 0.23, 0.41, 0.3, 0.89, 0.3, 0.42, 0.24, 0.4,
  0.25, 0.41, 0.23, 0.4, 0.33,
];

// ADE noise reference curves
const ADE_FREQ = [0.01, 0.1, 0.7, 100];
const ST1_ADE = [51, 10.3, 4.0, 4.0];
const ST2_ADE = [7.7, 1.52, 0.61, 0.61];

const CHANNELS = ['H1', 'H2', 'H3', 'V1', 'V2', 'V3'];
const COLORS: Record<string, string> = {
  H1: '#006BA4', H2: '#FF800E', H3: '#ABABAB', V1: '#595959', V2: '#5F9ED1', V3: '#C85200', ADE: '#898989',
};

const X_MIN = 0.01;
const X_MAX = 200;
const DECADES = [1e-12, 1e-11, 1e-10, 1e-9, 1e-8, 1e-7, 0.01, 0.1, 1, 10, 100];
const MULTS = [1, 2, 3, 4, 5, 6, 7, 8, 9];

function logTicks(lo: number, hi: number) {
  const out: number[] = [];
  DECADES.forEach((d) => MULTS.forEach((m) => {
    const v = m * d;
    if (v >= lo * 0.9999 && v <= hi * 1.0001) out.push(v);
  }));
  return out.sort((a, b) => a - b);
}

const isMajor = (v: number) => Math.abs(Math.log10(v) - Math.round(Math.log10(v))) < 1e-6;
const expText = (v: number) => String(Math.round(Math.log10(v))).replace('-', '\u2212');

function buildRows(freq: number[], series: Record<string, number[]>, ade: number[]) {
  return freq.map((f, i) => {
    const row: Record<string, number | null> = { f };
    CHANNELS.forEach((ch) => { row[ch] = series[ch][i] * UNIT; });
    const j = ADE_FREQ.indexOf(f);
    row.ADE = j >= 0 ? ade[j] * UNIT : null;
    return row;
  });
}

function XTick(props: any) {
  const { x, y, payload } = props;
  const v = payload.value;
  const major = isMajor(v);
  return (
    <g>
      <line x1={x} x2={x} y1={y} y2={y + (major ? 4.4 : 2.5)} stroke="#000" strokeWidth={1} />
      {major && (
        <text x={x} y={y + 24} textAnchor="middle" fontSize={13} fontFamily={FONT} fill="#000">
          10<tspan dy={-6} fontSize={9.5}>{expText(v)}</tspan>
        </text>
      )}
    </g>
  );
}

function YTick(props: any) {
  const { x, y, payload } = props;
  const v = payload.value;
  const major = isMajor(v);
  return (
    <g>
      <line x1={x - (major ? 4.4 : 2.5)} x2={x} y1={y} y2={y} stroke="#000" strokeWidth={1} />
      {major && (
        <text x={x - 11} y={y + 5.5} textAnchor="end" fontSize={13} fontFamily={FONT} fill="#000">
          10<tspan dy={-6.5} fontSize={9.5}>{expText(v)}</tspan>
        </text>
      )}
    </g>
  );
}

function LegendBox(props: any) {
  const order: string[] = props.order;
  const payload = [...(props.payload || [])].sort((a: any, b: any) => order.indexOf(a.value) - order.indexOf(b.value));
  return (
    <div style={{
      width: 406, height: 306, boxSizing: 'border-box', background: 'rgba(255,255,255,0.8)',
      border: '1px solid rgba(204,204,204,0.8)', borderRadius: 5, fontFamily: FONT, fontSize: 27, color: '#000',
    }}>
      {payload.map((p: any) => (
        <div key={p.value} style={{ height: 43, display: 'flex', alignItems: 'center' }}>
          <div style={{ width: 60, height: LINE_W, background: p.color, marginLeft: 8, marginRight: 22 }} />
          <span style={{ lineHeight: '43px', whiteSpace: 'nowrap' }}>{p.value}</span>
        </div>
      ))}
    </div>
  );
}

type StageProps = {
  top: number; stage: string; freq: number[]; series: Record<string, number[]>; ade: number[]; adeName: string;
  yMin: number; yMax: number; marginTop: number; marginBottom: number; legendTop: number;
};

function StagePlot({ top, stage, freq, series, ade, adeName, yMin, yMax, marginTop, marginBottom, legendTop }: StageProps) {
  const rows = buildRows(freq, series, ade);
  const names = [...CHANNELS.map((ch) => `ETMY_${stage}_CPSINF_${ch}`), adeName];
  return (
    <div style={{ position: 'absolute', left: 0, top }}>
      <LineChart width={2400} height={800} data={rows}
        margin={{ top: marginTop, right: 239.3, bottom: marginBottom, left: 220.7 }}>
        <CartesianGrid stroke="#b0b0b0" strokeWidth={1} />
        <XAxis dataKey="f" type="number" scale="log" domain={[X_MIN, X_MAX]} allowDataOverflow
          ticks={logTicks(X_MIN, X_MAX)} interval={0} tick={(p: any) => <XTick {...p} />}
          tickLine={false} tickSize={0} tickMargin={0} height={40} axisLine={{ stroke: '#000', strokeWidth: 1 }} />
        <YAxis type="number" scale="log" domain={[yMin, yMax]} allowDataOverflow
          ticks={logTicks(yMin, yMax)} interval={0} tick={(p: any) => <YTick {...p} />}
          tickLine={false} tickSize={0} tickMargin={0} width={80} axisLine={{ stroke: '#000', strokeWidth: 1 }} />
        <ReferenceLine x={X_MAX} stroke="#000" strokeWidth={1} ifOverflow="visible" />
        <ReferenceLine y={yMax} stroke="#000" strokeWidth={1} ifOverflow="visible" />
        {CHANNELS.map((ch, i) => (
          <Line key={ch} dataKey={ch} name={names[i]} type="linear" stroke={COLORS[ch]}
            strokeWidth={LINE_W} strokeLinejoin="round" dot={false} activeDot={false} isAnimationActive={false} />
        ))}
        <Line dataKey="ADE" name={adeName} type="linear" stroke={COLORS.ADE} strokeWidth={LINE_W} dot={false}
          activeDot={false} connectNulls isAnimationActive={false} />
        <Legend layout="vertical" align="center" verticalAlign="middle"
          wrapperStyle={{ left: 1740, top: legendTop, width: 406, height: 306 }}
          content={(p: any) => <LegendBox {...p} order={names} />} />
      </LineChart>
    </div>
  );
}

const ST1 = { H1: ST1_H1, H2: ST1_H2, H3: ST1_H3, V1: ST1_V1, V2: ST1_V2, V3: ST1_V3 };
const ST2 = { H1: ST2_H1, H2: ST2_H2, H3: ST2_H3, V1: ST2_V1, V2: ST2_V2, V3: ST2_V3 };

export default function App() {
  const bad = [
    ...Object.entries(ST1).filter(([, a]) => a.length !== FREQ_ST1.length).map(([k, a]) => `ST1_${k}:${a.length}/${FREQ_ST1.length}`),
    ...Object.entries(ST2).filter(([, a]) => a.length !== FREQ_ST2.length).map(([k, a]) => `ST2_${k}:${a.length}/${FREQ_ST2.length}`),
  ];
  return (
    <div style={{ position: 'absolute', left: 0, top: 0, width: 2400, height: 1600, background: '#fff', fontFamily: FONT }}>
      <StagePlot top={0} stage="ST1" freq={FREQ_ST1} series={ST1} ade={ST1_ADE} adeName="ADE 1mm noise"
        yMin={4.71e-11} yMax={7.48e-7} marginTop={192.6} marginBottom={7.9} legendTop={207} />
      <StagePlot top={800} stage="ST2" freq={FREQ_ST2} series={ST2} ade={ST2_ADE} adeName="ADE .25mm noise"
        yMin={3.3e-12} yMax={5.27e-7} marginTop={64.6} marginBottom={135.5} legendTop={78.4} />
      <svg width={2400} height={1600} style={{ position: 'absolute', left: 0, top: 0, pointerEvents: 'none' }}
        fontFamily={FONT} fill="#000">
        <text x={1194} y={60} textAnchor="middle" fontSize={36}>CPS Spectra</text>
        <text x={1206} y={99} textAnchor="middle" fontSize={36}>1367575200 to 1367575800</text>
        <text x={1230.7} y={183.3} textAnchor="middle" fontSize={27}>ETMY_ST1</text>
        <text x={1230.7} y={855.3} textAnchor="middle" fontSize={27}>ETMY_ST2</text>
        <text x={1230.7} y={805.3} textAnchor="middle" fontSize={24.5}>Freq (hz)</text>
        <text x={1230.7} y={1477.7} textAnchor="middle" fontSize={24.5}>Freq (hz)</text>
        <text transform="translate(243,472.4) rotate(-90)" textAnchor="middle" fontSize={24.5}>m/rthz</text>
        <text transform="translate(243,1144.5) rotate(-90)" textAnchor="middle" fontSize={24.5}>m/rthz</text>
        <text x={1222.5} y={1520} textAnchor="middle" fontSize={15} fontWeight="bold">calibration only &gt;10hz</text>
        <text transform="translate(2293,391) rotate(-90)" textAnchor="middle" fontSize={14} fontWeight="bold">
          /opt/rtcds/userapps/trunk/sys/h1/scripts/BSC_cps_spectra.py
        </text>
        {bad.length > 0 && <text x={20} y={1590} fontSize={18} fill="red">{bad.join(' ')}</text>}
      </svg>
    </div>
  );
}
